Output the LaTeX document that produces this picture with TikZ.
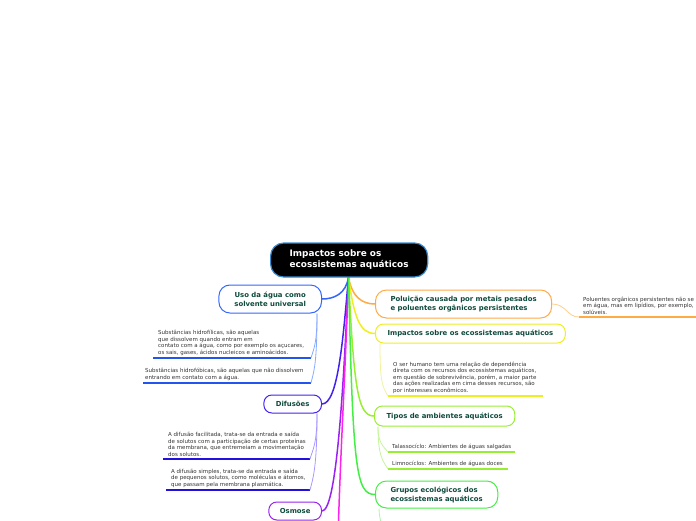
\documentclass[tikz,border=0pt]{standalone}
\usepackage{fontspec}
\setmainfont{DejaVu Sans}

\definecolor{rootblue}{HTML}{3A8AD0}
\definecolor{labelgreen}{HTML}{0F4A3C}
\definecolor{leafgray}{HTML}{333333}
\definecolor{usoblue}{HTML}{3366FF}
\definecolor{usolight}{HTML}{8AAAFF}
\definecolor{usoline}{HTML}{2255EE}
\definecolor{difviolet}{HTML}{4422EE}
\definecolor{diflight}{HTML}{A899FF}
\definecolor{difline}{HTML}{2211DD}
\definecolor{osmpurple}{HTML}{9922EE}
\definecolor{hidmagenta}{HTML}{FF22EE}
\definecolor{polorange}{HTML}{FFAA44}
\definecolor{pollight}{HTML}{FFD08A}
\definecolor{impyellow}{HTML}{EEEE22}
\definecolor{implight}{HTML}{F2F29A}
\definecolor{tiplime}{HTML}{99EE33}
\definecolor{tiplight}{HTML}{C4F59A}
\definecolor{grugreen}{HTML}{44EE44}
\definecolor{grulight}{HTML}{AAF5AA}

\tikzset{
  topic/.style={draw=#1, line width=1pt, rounded corners=8pt, fill=white, text=labelgreen,
    font=\fontsize{6.9}{9}\selectfont\bfseries, inner ysep=0pt},
  leaf/.style={anchor=south west, inner sep=0pt, align=left, text=leafgray,
    font=\fontsize{5.5}{6.5}\selectfont},
  branch/.style={draw=#1, line width=1.5pt},
  twig/.style={draw=#1, line width=0.8pt},
  underline/.style={draw=#1, line width=1.8pt}
}

\begin{document}
\begin{tikzpicture}[x=1pt,y=-1pt]
  \useasboundingbox (0,0) rectangle (696,520);
  \clip (0,0) rectangle (696,520);

  % branches from the root
  \draw[branch=usoblue] (348.5,277) .. controls (346,294) and (334,299) .. (322,299);
  \draw[branch=difviolet] (348.5,277) .. controls (343,340) and (338,404) .. (322,404);
  \draw[branch=osmpurple] (348.5,277) .. controls (343,400) and (336,511) .. (322,511);
  \draw[branch=hidmagenta] (348.5,277) .. controls (345,380) and (340,460) .. (338,540);
  \draw[branch=polorange] (348.5,277) .. controls (352,297) and (362,304) .. (375,304);
  \draw[branch=impyellow] (348.5,277) .. controls (354,318) and (360,333.5) .. (375,333.5);
  \draw[branch=tiplime] (348.5,277) .. controls (354,390) and (358,416) .. (374,416);
  \draw[branch=grugreen] (348.5,277) .. controls (353,470) and (356,494.5) .. (375,494.5);

  \node[draw=rootblue, fill=black, line width=1.2pt, rounded corners=13pt, text=white,
    font=\fontsize{8.9}{11}\selectfont\bfseries, align=left, inner xsep=19pt,
    minimum height=34pt, anchor=west] (root) at (270,260) {Impactos sobre os\\ecossistemas aquáticos};

  % left side
  \node[topic=usoblue, rounded corners=11pt, align=center, inner xsep=15.5pt,
    minimum height=28pt, anchor=east] (uso) at (322,299) {Uso da água como\\solvente universal};
  \node[topic=difviolet, inner xsep=12pt, minimum height=18pt, anchor=east] (dif) at (322,404) {Difusões};
  \node[topic=osmpurple, inner xsep=11pt, minimum height=18pt, anchor=east] (osm) at (322,511) {Osmose};

  \coordinate (u1a) at (153,358);
  \coordinate (u1b) at (311,358);
  \coordinate (u2a) at (143,383);
  \coordinate (u2b) at (311,383);
  \node[leaf] (u1) at (158,355.5) {Substâncias hidrofílicas, são aquelas\\que dissolvem quando entram em\\contato com a água, como por exemplo os açucares,\\os sais, gases, ácidos nucleicos e aminoácidos.};
  \node[leaf] (u2) at (145,380.5) {Substâncias hidrofóbicas, são aquelas que não dissolvem\\entrando em contato com a água.};
  \draw[underline=usoline] (u1a) -- (u1b);
  \draw[underline=usoline] (u2a) -- (u2b);
  \draw[twig=usolight] ([xshift=-5pt]uso.south east) .. controls +(0,30) and +(3,-10) .. (u1b);
  \draw[twig=usolight] ([xshift=-5pt]uso.south east) .. controls +(0,50) and +(3,-12) .. (u2b);

  \coordinate (d1a) at (163,459);
  \coordinate (d1b) at (310,459);
  \coordinate (d2a) at (166,490);
  \coordinate (d2b) at (310,490);
  \node[leaf] (d1) at (168,456.5) {A difusão facilitada, trata-se da entrada e saída\\de solutos com a participação de certas proteínas\\da membrana, que entremeiam a movimentação\\dos solutos.};
  \node[leaf] (d2) at (171,487.5) {A difusão simples, trata-se da entrada e saída\\de pequenos solutos, como moléculas e átomos,\\que passam pela membrana plasmática.};
  \draw[underline=difline] (d1a) -- (d1b);
  \draw[underline=difline] (d2a) -- (d2b);
  \draw[twig=diflight] ([xshift=-5pt]dif.south east) .. controls +(0,30) and +(3,-10) .. (d1b);
  \draw[twig=diflight] ([xshift=-5pt]dif.south east) .. controls +(0,55) and +(3,-12) .. (d2b);

  % right side
  \node[topic=polorange, rounded corners=11pt, align=left, inner xsep=15pt,
    minimum height=28pt, anchor=west] (pol) at (375,304) {Poluição causada por metais pesados\\e poluentes orgânicos persistentes};
  \node[topic=impyellow, inner xsep=12pt, minimum height=19pt, anchor=west] (imp) at (375,333.5) {Impactos sobre os ecossistemas aquáticos};
  \node[topic=tiplime, inner xsep=12pt, minimum height=20pt, anchor=west] (tip) at (374,416) {Tipos de ambientes aquáticos};
  \node[topic=grugreen, rounded corners=11pt, align=left, inner xsep=15pt,
    minimum height=27pt, anchor=west] (gru) at (375,494.5) {Grupos ecológicos dos\\ecossistemas aquáticos};

  \coordinate (p1a) at (579,317);
  \coordinate (p1b) at (700,317);
  \node[leaf] (p1) at (583,314.5) {Poluentes orgânicos persistentes não se\\em água, mas em lipídios, por exemplo,\\solúveis.};
  \draw[underline=polorange] (p1a) -- (p1b);
  \draw[twig=pollight] (pol.east) .. controls +(14,0) and +(-12,0) .. (p1a);

  \coordinate (i1a) at (388,396);
  \coordinate (i1b) at (543,396);
  \node[leaf] (i1) at (393,393.5) {O ser humano tem uma relação de dependência\\direta com os recursos dos ecossistemas aquáticos,\\em questão de sobrevivência, porém, a maior parte\\das ações realizadas em cima desses recursos, são\\por interesses econômicos.};
  \draw[underline=impyellow] (i1a) -- (i1b);
  \draw[twig=implight] ([xshift=5pt]imp.south west) .. controls +(0,38) and +(-6,-10) .. (i1a);

  \coordinate (t1a) at (388,452);
  \coordinate (t1b) at (515,452);
  \coordinate (t2a) at (388,469);
  \coordinate (t2b) at (508,469);
  \node[leaf] (t1) at (392,449.5) {Talassocíclo: Ambientes de águas salgadas};
  \node[leaf] (t2) at (392,466.5) {Limnocíclos: Ambientes de águas doces};
  \draw[underline=tiplime] (t1a) -- (t1b);
  \draw[underline=tiplime] (t2a) -- (t2b);
  \draw[twig=tiplight] ([xshift=4pt]tip.south west) .. controls +(0,16) and +(-5,-6) .. (t1a);
  \draw[twig=tiplight] ([xshift=4pt]tip.south west) .. controls +(0,30) and +(-5,-8) .. (t2a);

  \coordinate (g1) at (386,540);
  \draw[twig=grulight] ([xshift=4pt]gru.south west) .. controls +(0,12) and +(-2,-10) .. (g1);
\end{tikzpicture}
\end{document}
